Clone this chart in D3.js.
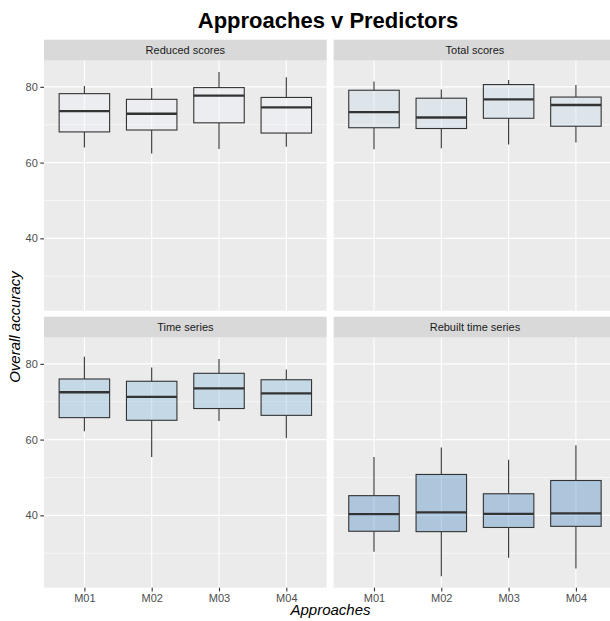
<!DOCTYPE html>
<html>
<head>
<meta charset="utf-8">
<script src="https://cdn.jsdelivr.net/npm/d3@7"></script>
<style>
  html, body { margin: 0; padding: 0; background: #fff; overflow: hidden; }
  svg { display: block; font-family: "Liberation Sans", Arial, sans-serif; }
</style>
</head>
<body>
<svg id="chart" width="610" height="621"></svg>
<script>
// Approaches on the x axis, one facet per predictor set
const approaches = ["M01", "M02", "M03", "M04"];
const predictors = ["Reduced scores", "Total scores", "Time series", "Rebuilt time series"];

// Box summaries per approach: [lower whisker, Q1, median, Q3, upper whisker]
const reducedScores = [
  [64.0, 68.1, 73.6, 78.2, 80.2],
  [62.4, 68.6, 72.9, 76.7, 79.7],
  [63.6, 70.5, 77.7, 79.8, 83.9],
  [64.2, 67.8, 74.6, 77.2, 82.5]
];
const totalScores = [
  [63.5, 69.2, 73.3, 79.1, 81.4],
  [63.8, 69.0, 71.9, 77.0, 79.3],
  [64.8, 71.7, 76.7, 80.6, 81.8],
  [65.3, 69.6, 75.2, 77.3, 80.5]
];
const timeSeries = [
  [62.2, 65.8, 72.5, 76.0, 81.9],
  [55.4, 65.1, 71.3, 75.4, 79.0],
  [64.9, 68.2, 73.5, 77.5, 81.3],
  [60.4, 66.4, 72.2, 75.8, 78.5]
];
const rebuiltTimeSeries = [
  [30.4, 35.8, 40.3, 45.2, 55.4],
  [23.9, 35.7, 40.8, 50.8, 57.9],
  [28.8, 36.8, 40.4, 45.7, 54.7],
  [26.0, 37.1, 40.5, 49.2, 58.5]
];
const yTicks = [40, 60, 80];
const yMinorTicks = [30, 50, 70];
const fillColors = ["#eff3ff", "#bdd7e7", "#6baed6", "#2171b5"];

const summaries = [reducedScores, totalScores, timeSeries, rebuiltTimeSeries];

const svg = d3.select("#chart");

// Facet layout (2 x 2)
const panelW = 282.7, panelH = 250, stripH = 21;
const colX = [44, 333.6];
const rowY = [60.7, 337.7]; // panel tops (strip sits above)

// shared y scale with 5% expansion around the data
const allVals = summaries.flat(2);
const lo = d3.min(allVals), hi = d3.max(allVals);
const pad = (hi - lo) * 0.05;
const y = d3.scaleLinear().domain([lo - pad, hi + pad]).range([panelH, 0]);

// discrete x scale with 0.6 unit expansion on each side
const x = d3.scalePoint().domain(approaches).range([0, panelW]).padding(0.6);
const step = x.step();
const boxW = step * 0.75;

predictors.forEach((name, i) => {
  const col = i % 2, row = Math.floor(i / 2);
  const g = svg.append("g").attr("transform", `translate(${colX[col]},${rowY[row]})`);

  // strip
  g.append("rect").attr("x", 0).attr("y", -stripH).attr("width", panelW).attr("height", stripH)
    .attr("fill", "#d9d9d9");
  g.append("text").attr("x", panelW / 2).attr("y", -stripH / 2 + 4)
    .attr("text-anchor", "middle").attr("font-size", 11).attr("fill", "#1a1a1a").text(name);

  // panel background + grid
  g.append("rect").attr("width", panelW).attr("height", panelH).attr("fill", "#ebebeb");
  g.selectAll(".minor").data(yMinorTicks).join("line")
    .attr("x1", 0).attr("x2", panelW).attr("y1", d => y(d)).attr("y2", d => y(d))
    .attr("stroke", "#fff").attr("stroke-width", 0.55);
  g.selectAll(".major").data(yTicks).join("line")
    .attr("x1", 0).attr("x2", panelW).attr("y1", d => y(d)).attr("y2", d => y(d))
    .attr("stroke", "#fff").attr("stroke-width", 1.1);
  g.selectAll(".vmajor").data(approaches).join("line")
    .attr("x1", d => x(d)).attr("x2", d => x(d)).attr("y1", 0).attr("y2", panelH)
    .attr("stroke", "#fff").attr("stroke-width", 1.1);

  // boxplots
  const stats = summaries[i];
  const boxes = g.selectAll(".box").data(approaches).join("g");
  boxes.append("line")
    .attr("x1", d => x(d)).attr("x2", d => x(d))
    .attr("y1", (d, j) => y(stats[j][3])).attr("y2", (d, j) => y(stats[j][4]))
    .attr("stroke", "#333").attr("stroke-width", 1.1);
  boxes.append("line")
    .attr("x1", d => x(d)).attr("x2", d => x(d))
    .attr("y1", (d, j) => y(stats[j][1])).attr("y2", (d, j) => y(stats[j][0]))
    .attr("stroke", "#333").attr("stroke-width", 1.1);
  boxes.append("rect")
    .attr("x", d => x(d) - boxW / 2).attr("width", boxW)
    .attr("y", (d, j) => y(stats[j][3]))
    .attr("height", (d, j) => y(stats[j][1]) - y(stats[j][3]))
    .attr("fill", fillColors[i]).attr("fill-opacity", 0.3)
    .attr("stroke", "#333").attr("stroke-width", 1.1);
  boxes.append("line")
    .attr("x1", d => x(d) - boxW / 2).attr("x2", d => x(d) + boxW / 2)
    .attr("y1", (d, j) => y(stats[j][2])).attr("y2", (d, j) => y(stats[j][2]))
    .attr("stroke", "#333").attr("stroke-width", 2.3);

  // y axis on left column
  if (col === 0) {
    const ya = g.append("g").call(d3.axisLeft(y).tickValues(yTicks).tickSize(3.7).tickPadding(2.5));
    ya.select(".domain").remove();
    ya.selectAll("line").attr("stroke", "#333").attr("stroke-width", 1.1);
    ya.selectAll("text").attr("fill", "#4d4d4d").attr("font-size", 11)
      .attr("font-family", "Liberation Sans, Arial, sans-serif");
  }
  // x axis on bottom row
  if (row === 1) {
    const xa = g.append("g").attr("transform", `translate(0,${panelH})`)
      .call(d3.axisBottom(x).tickSize(3.7).tickPadding(2.5));
    xa.select(".domain").remove();
    xa.selectAll("line").attr("stroke", "#333").attr("stroke-width", 1.1);
    xa.selectAll("text").attr("fill", "#4d4d4d").attr("font-size", 11)
      .attr("font-family", "Liberation Sans, Arial, sans-serif");
  }
});

// titles
svg.append("text").attr("x", 328).attr("y", 28).attr("text-anchor", "middle")
  .attr("font-size", 22).attr("font-weight", "bold").attr("fill", "#000")
  .text("Approaches v Predictors");
svg.append("text").attr("x", 330.5).attr("y", 615).attr("text-anchor", "middle")
  .attr("font-size", 15).attr("font-style", "italic").attr("fill", "#000")
  .text("Approaches");
svg.append("text").attr("transform", "translate(20,327) rotate(-90)")
  .attr("text-anchor", "middle").attr("font-size", 15).attr("font-style", "italic").attr("fill", "#000")
  .text("Overall accuracy");
</script>
</body>
</html>
